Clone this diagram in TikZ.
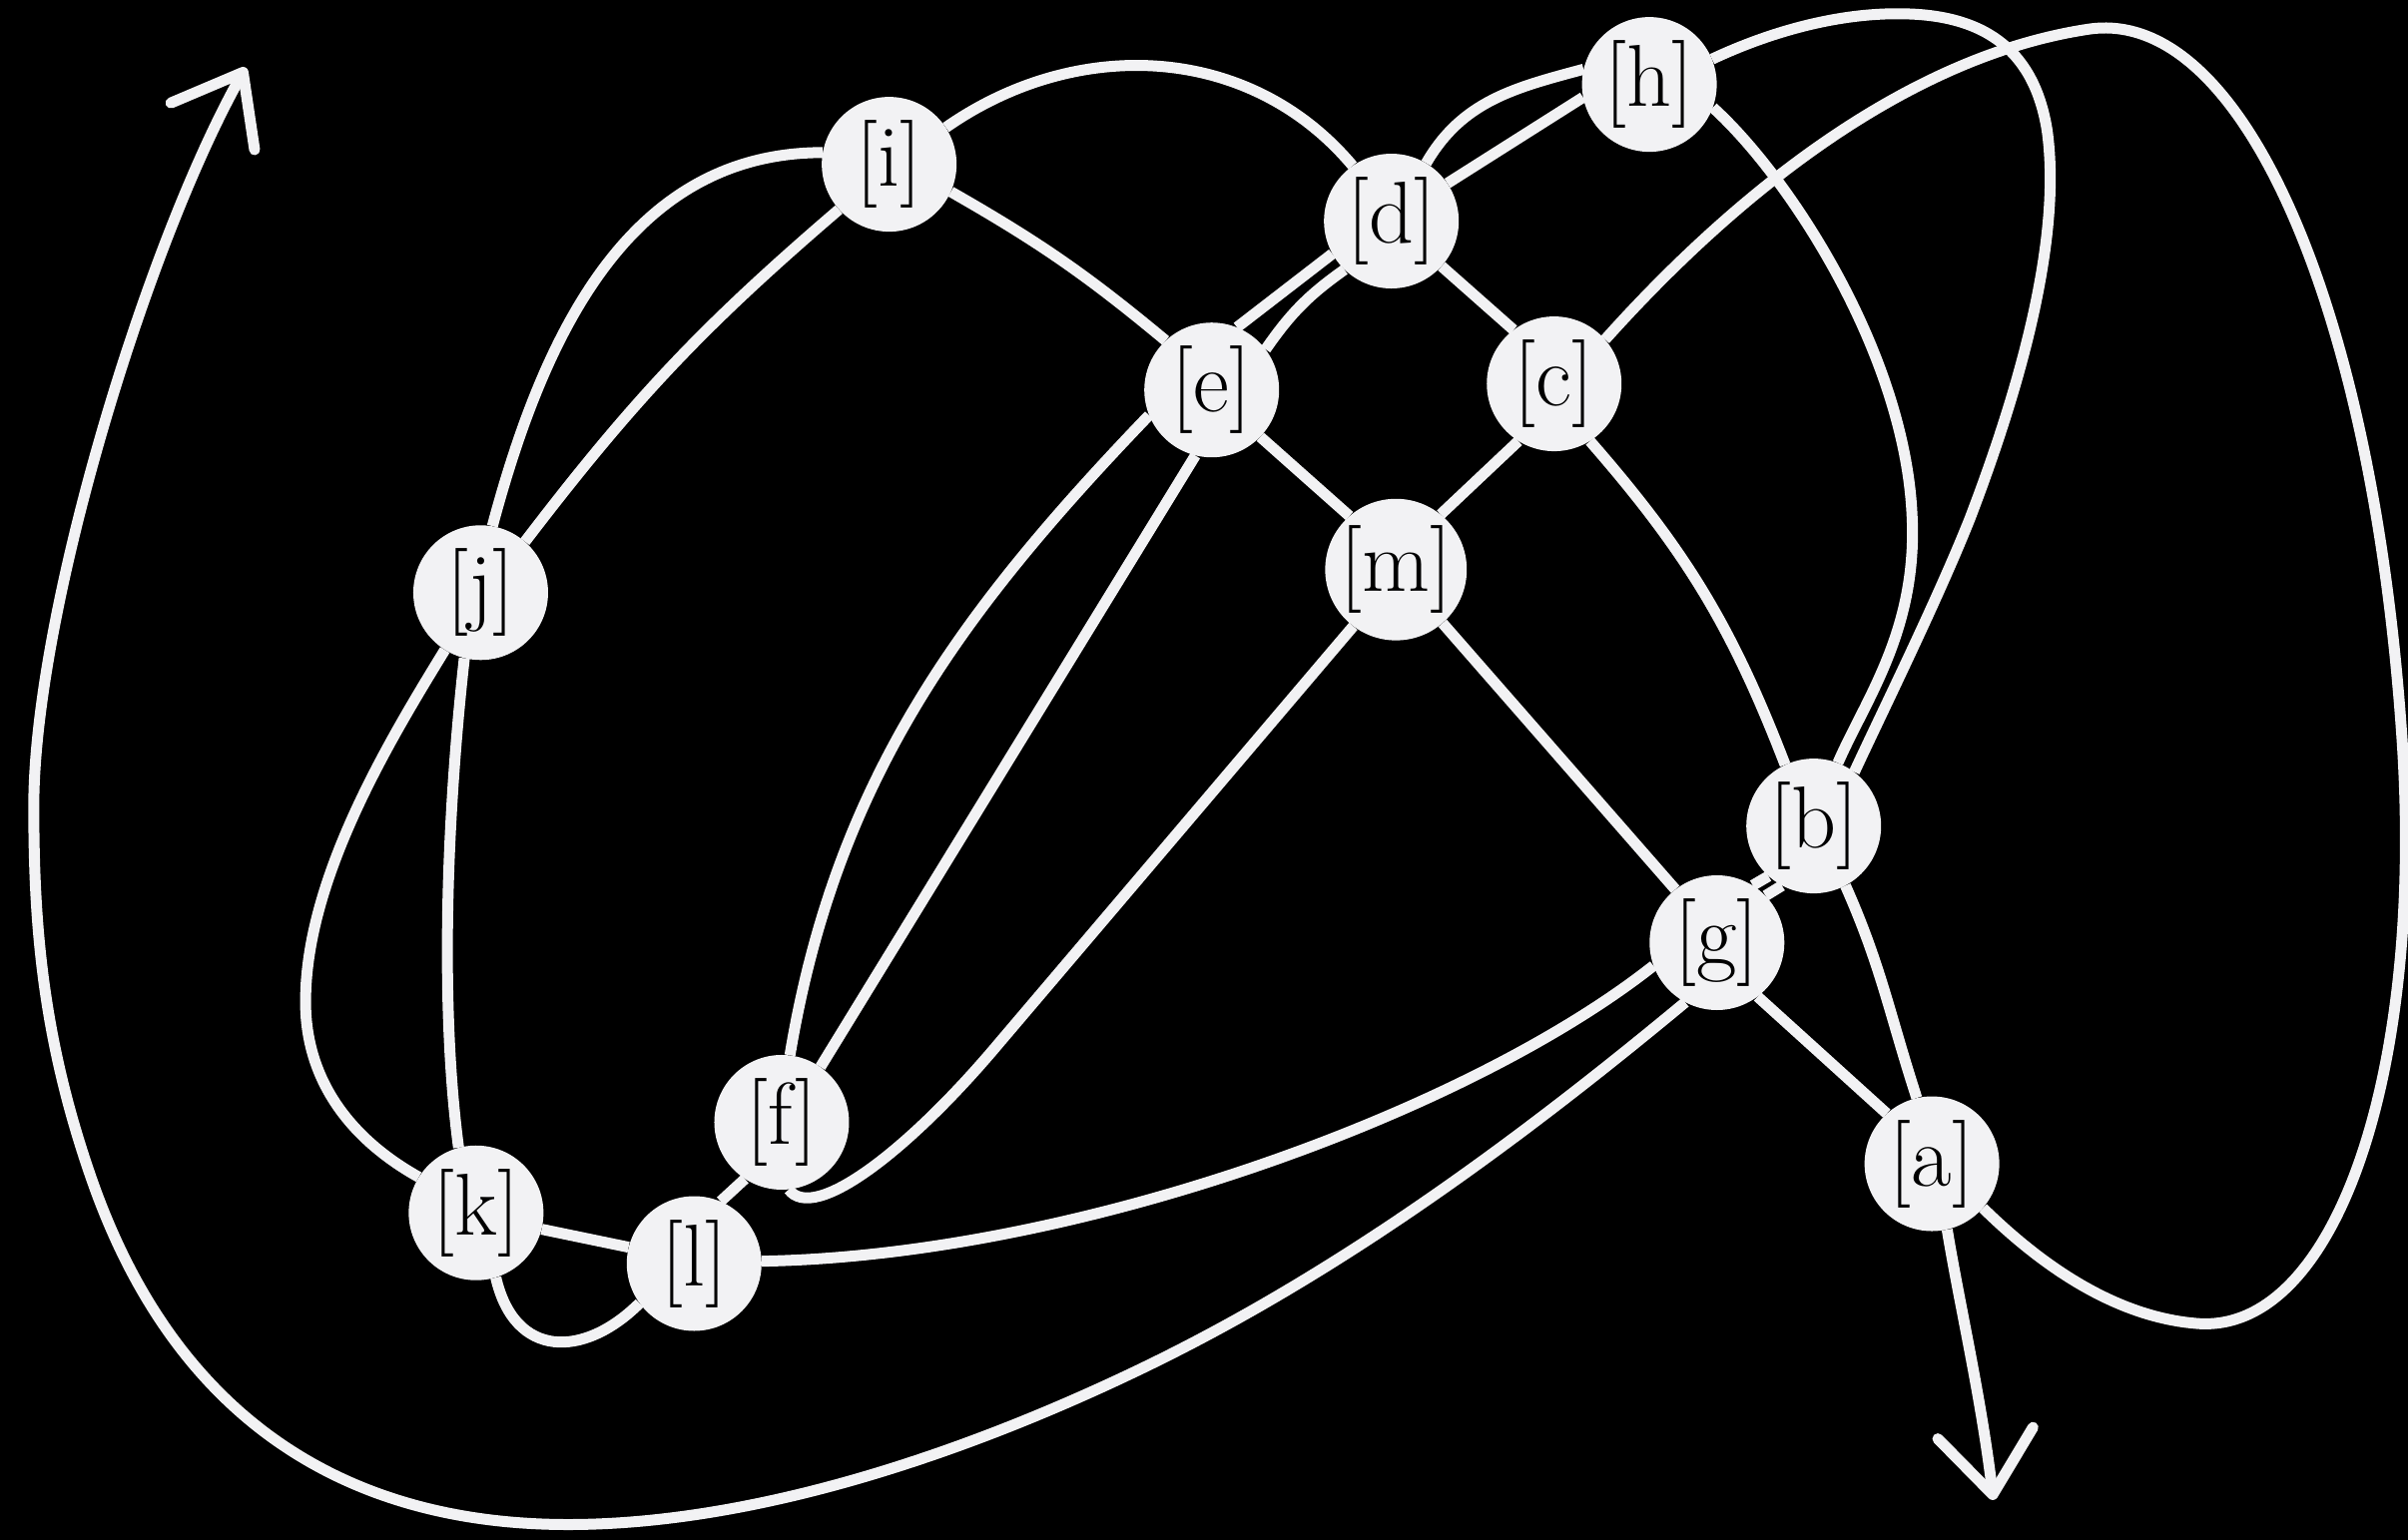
\documentclass[tikz,border=0pt]{standalone}
\usepackage{fontspec}
\usetikzlibrary{arrows.meta,backgrounds}
\definecolor{ink}{RGB}{242,242,244}
\begin{document}
\begin{tikzpicture}[x=1.5383pt,y=-1.5383pt,
  knot/.style={circle,fill=ink,minimum size=135pt,inner sep=0pt,font=\fontsize{88}{92}\selectfont,text=black},
  strand/.style={draw=ink,line width=11pt},
  endtip/.style={-{Straight Barb[length=62pt,width=96pt,round]}}]
\useasboundingbox (0,0) rectangle (1568,1003);
% nodes
\node[knot] (h) at (1074,55) {[h]};
\node[knot] (i) at (579,107) {[i]};
\node[knot] (d) at (906,144) {[d]};
\node[knot] (e) at (789,254) {[e]};
\node[knot] (c) at (1012,250) {[c]};
\node[knot] (j) at (313,386) {[j]};
\node[knot] (m) at (909,371) {[m]};
\node[knot] (b) at (1181,538) {[b]};
\node[knot] (g) at (1118,614) {[g]};
\node[knot] (f) at (509,731) {[f]};
\node[knot] (a) at (1258,758) {[a]};
\node[knot] (k) at (310,790) {[k]};
\node[knot] (l) at (452,823) {[l]};
\coordinate (tipA) at (160,44);
\coordinate (tipB) at (1298,977);
\begin{scope}[on background layer]
\fill[black] (0,0) rectangle (1568,1003);
% h - d
\draw[strand] (h.167) to[out=195,in=60] (d.59);
\draw[strand] (h.191) -- (d.34);
% h - b
\draw[strand] (h.-20) .. controls (1165,115) and (1240,230) .. (1245,335)
  .. controls (1249,410) and (1215,455) .. (b.69);
\draw[strand] (h.22) .. controls (1150,22) and (1195,8) .. (1240,9)
  .. controls (1295,10) and (1325,35) .. (1333,85)
  .. controls (1342,150) and (1320,240) .. (1283,337)
  .. controls (1262,390) and (1225,465) .. (b.53);
% c - a (right loop)
\draw[strand] (c.41) .. controls (1100,160) and (1220,40) .. (1360,19)
  .. controls (1460,4) and (1545,200) .. (1564,480)
  .. controls (1579,700) and (1520,870) .. (1430,862)
  .. controls (1370,857) and (1320,815) .. (a.-41);
% a - end
\draw[strand,endtip] (a.-77) .. controls (1276,850) and (1290,910) .. (tipB);
% a - b, a - g
\draw[strand] (b.-62) to[out=-66,in=108] (a.103);
\draw[strand] (g.-53) -- (a.132);
% g - b
\draw[strand] (g.58) -- (b.228);
\draw[strand] (g.44) -- (b.242);
% g - m, g - l
\draw[strand] (m.-49) -- (g.128);
\draw[strand] (l.2) .. controls (700,818) and (955,725) .. (g.200);
% big loop g -> start arrow
\draw[strand,endtip] (g.242) .. controls (987,744.5) and (868.7,831.5) .. (740,893)
  .. controls (625,948) and (490,993) .. (370,993)
  .. controls (220,993) and (112.8,919.4) .. (60,769)
  .. controls (27,675) and (22,600) .. (22,525)
  .. controls (22,400) and (95,160) .. (tipA);
% k - l
\draw[strand] (k.-14) -- (l.166);
\draw[strand] (k.-73) .. controls (335,885) and (380,885) .. (l.216);
% f - l
\draw[strand] (f.237) -- (l.67);
% m - f
\draw[strand] (m.233) -- (650,680) .. controls (592,749) and (530,797) .. (f.-84);
% e - f
\draw[strand] (e.256) -- (f.55);
\draw[strand] (e.202) .. controls (623.8,400) and (543.9,509.8) .. (f.83);
% e - d
\draw[strand] (e.68) -- (d.209);
\draw[strand] (e.37) to[bend left=10] (d.226);
% i - e, i - d
\draw[strand] (i.-24) to[bend left=5] (e.133);
\draw[strand] (i.33) to[out=35,in=130] (d.125);
% d - c, m - c, m - e, c - b
\draw[strand] (d.-42) -- (c.127);
\draw[strand] (m.51) -- (c.238);
\draw[strand] (m.131) -- (e.-44);
\draw[strand] (c.-58) to[bend left=10] (b.115);
% i - j
\draw[strand] (i.222) to[bend right=6] (j.49);
\draw[strand] (i.170) to[out=180,in=75] (j.80);
% j - k
\draw[strand] (j.-104) .. controls (290,540) and (287,660) .. (k.105);
\draw[strand] (j.238) .. controls (255,480) and (200,570) .. (199,650)
  .. controls (198,700) and (225,740) .. (k.148);
\end{scope}
\end{tikzpicture}
\end{document}
